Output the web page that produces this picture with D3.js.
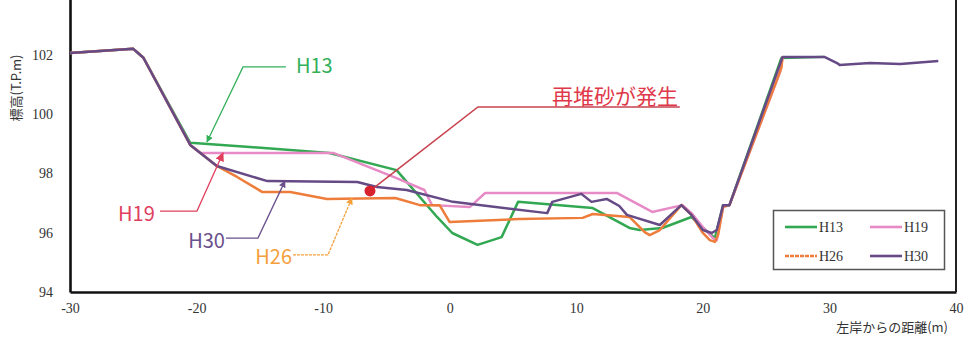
<!DOCTYPE html>
<html>
<head>
<meta charset="utf-8">
<script src="https://cdn.jsdelivr.net/npm/d3@7"></script>
<style>
  html, body { margin: 0; padding: 0; background: #fff; }
  svg { display: block; }
</style>
</head>
<body>
<svg id="chart" width="978" height="337"></svg>
<script>
// Cross-section survey: distance from the left bank (m) vs. elevation (T.P. m)
const seriesNames = ["H13", "H19", "H26", "H30"];
const seriesColors = ["#33a852", "#e68bc6", "#ee7d3b", "#654a86"];

const h13 = [
  [-30, 102.06], [-25, 102.2], [-24.2, 101.9], [-20.5, 99.03], [-15.8, 98.89],
  [-9.5, 98.69], [-4.2, 98.11], [-1.0, 96.53], [0.2, 95.99], [2.2, 95.59],
  [4.1, 95.85], [5.4, 97.04], [11.3, 96.83], [14.2, 96.16], [15.0, 96.09],
  [16.8, 96.16], [19.1, 96.53], [20.4, 96.02], [20.95, 95.82], [21.6, 96.93],
  [22.1, 96.93], [26.2, 101.89], [29.6, 101.93]
];
const h19 = [
  [-30, 102.06], [-25, 102.2], [-24.2, 101.9], [-20.5, 98.96], [-19.7, 98.69],
  [-9.2, 98.69], [-4.2, 97.84], [-2.0, 97.44], [-1.4, 96.93], [1.6, 96.87],
  [2.8, 97.34], [13.2, 97.34], [16.0, 96.7], [18.4, 96.93], [19.1, 96.66],
  [20.0, 96.19], [20.8, 95.82], [21.1, 95.75], [21.6, 96.87], [22.1, 96.93],
  [26.1, 101.42], [26.3, 101.93]
];
const h26 = [
  [-30, 102.06], [-25, 102.2], [-24.2, 101.9], [-20.5, 98.96], [-18.4, 98.25],
  [-16.8, 97.88], [-14.8, 97.37], [-12.6, 97.37], [-9.7, 97.14], [-4.3, 97.17],
  [-2.35, 96.93], [-0.8, 96.93], [0.0, 96.36], [5.5, 96.46], [10.5, 96.5],
  [11.3, 96.63], [14.2, 96.53], [15.4, 96.02], [15.8, 95.92], [16.6, 96.09],
  [18.3, 96.93], [19.1, 96.6], [20.0, 95.99], [20.55, 95.75], [20.95, 95.69],
  [21.2, 95.92], [21.6, 96.87], [22.1, 96.93], [26.2, 101.55], [26.3, 101.93]
];
const h30 = [
  [-30, 102.06], [-25, 102.2], [-24.2, 101.9], [-20.5, 98.96], [-18.4, 98.25],
  [-14.4, 97.74], [-7.3, 97.71], [-5.75, 97.54], [-3.4, 97.44], [0.25, 97.04],
  [7.7, 96.66], [8.1, 97.04], [10.4, 97.31], [11.2, 97.04], [12.4, 97.14],
  [13.4, 96.9], [14.0, 96.6], [16.6, 96.26], [18.3, 96.93], [19.1, 96.6],
  [20.0, 96.09], [20.7, 95.99], [21.1, 96.09], [21.6, 96.93], [22.1, 96.93],
  [26.3, 101.93], [29.6, 101.93], [30.6, 101.72], [30.8, 101.66], [33.2, 101.72],
  [35.6, 101.69], [38.6, 101.79]
];
const seriesData = [h13, h19, h26, h30];

const xTicks = [-30, -20, -10, 0, 10, 20, 30, 40];
const yTicks = [94, 96, 98, 100, 102];

// Callouts: label anchor, leader path (data units), arrow at the last point
const calloutLabels = ["H13", "H19", "H30", "H26"];
const calloutColors = ["#33b05a", "#e0405e", "#6a508c", "#f5a03c"];
const calloutLabelAt = [[-12.15, 101.38], [-23.3, 96.39], [-17.76, 95.48], [-12.46, 94.94]];
const calloutAnchor = ["start", "end", "end", "end"];
const calloutPaths = [
  [[-12.94, 101.59], [-16.33, 101.59], [-19.18, 99.06]],
  [[-22.89, 96.73], [-19.97, 96.73], [-17.91, 98.69]],
  [[-17.68, 95.82], [-15.15, 95.82], [-13.02, 97.74]],
  [[-12.38, 95.25], [-9.62, 95.25], [-7.73, 97.17]]
];

// Re-deposition note
const depositNote = "再堆砂が発生";
const depositPoint = [-6.3, 97.41];
const depositPath = [[-6.3, 97.41], [2.23, 100.24], [18.18, 100.24]];
const depositLabelAt = [18.03, 100.34];

const svg = d3.select("#chart");
const x = d3.scaleLinear().domain([-30, 40]).range([70, 956]);
const y = d3.scaleLinear().domain([94, 104]).range([292, -4.5]);

const serif = "'Liberation Serif', 'Times New Roman', serif";
const jp = "'Noto Sans CJK JP', 'Noto Sans', sans-serif";

// Frame: right edge
svg.append("line")
  .attr("x1", x(40)).attr("x2", x(40))
  .attr("y1", y(104)).attr("y2", y(94))
  .attr("stroke", "#222").attr("stroke-width", 2);

// Axes (plain hyphen for negatives)
const plain = d => String(d);
const xAxis = svg.append("g")
  .attr("transform", `translate(0,${y(94)})`)
  .call(d3.axisBottom(x).tickValues(xTicks).tickFormat(plain)
    .tickSize(0).tickSizeOuter(0).tickPadding(11));
const yAxis = svg.append("g")
  .attr("transform", `translate(${x(-30)},0)`)
  .call(d3.axisLeft(y).tickValues(yTicks).tickFormat(plain)
    .tickSize(0).tickSizeOuter(0).tickPadding(17));

[xAxis, yAxis].forEach(g => {
  g.select(".domain").attr("stroke", "#111").attr("stroke-width", 2.6);
  g.selectAll("text")
    .attr("font-family", serif)
    .attr("font-size", 14)
    .attr("fill", "#333");
});

// Axis titles
svg.append("text")
  .attr("transform", `translate(21,88) rotate(-90)`)
  .attr("text-anchor", "middle")
  .attr("font-family", jp)
  .attr("font-size", 13)
  .attr("fill", "#333")
  .text("標高(T.P.m)");

svg.append("text")
  .attr("x", 948).attr("y", 332)
  .attr("text-anchor", "end")
  .attr("font-family", jp)
  .attr("font-size", 13)
  .attr("fill", "#333")
  .text("左岸からの距離(m)");

// Profiles
const line = d3.line().x(d => x(d[0])).y(d => y(d[1]));
svg.append("g").selectAll("path")
  .data(seriesData)
  .join("path")
  .attr("d", line)
  .attr("fill", "none")
  .attr("stroke", (d, i) => seriesColors[i])
  .attr("stroke-width", 2.5)
  .attr("stroke-linejoin", "round");

// Arrow markers for callouts
const defs = svg.append("defs");
calloutColors.forEach((c, i) => {
  defs.append("marker")
    .attr("id", "arrow" + i)
    .attr("viewBox", "0 0 10 10")
    .attr("refX", 9).attr("refY", 5)
    .attr("markerWidth", i === 1 ? 9 : 7)
    .attr("markerHeight", i === 1 ? 9 : 7)
    .attr("markerUnits", "userSpaceOnUse")
    .attr("orient", "auto")
    .append("path")
    .attr("d", "M0,0 L10,5 L0,10 Z")
    .attr("fill", c);
});

const callouts = svg.append("g");
calloutPaths.forEach((p, i) => {
  callouts.append("path")
    .attr("d", d3.line().x(d => x(d[0])).y(d => y(d[1]))(p))
    .attr("fill", "none")
    .attr("stroke", calloutColors[i])
    .attr("stroke-width", 1.3)
    .attr("stroke-dasharray", i === 3 ? "3,1" : null)
    .attr("marker-end", `url(#arrow${i})`);
  callouts.append("text")
    .attr("x", x(calloutLabelAt[i][0]))
    .attr("y", y(calloutLabelAt[i][1]))
    .attr("text-anchor", calloutAnchor[i])
    .attr("font-family", jp)
    .attr("font-size", 20)
    .attr("fill", calloutColors[i])
    .text(calloutLabels[i]);
});

// Re-deposition callout
svg.append("path")
  .attr("d", d3.line().x(d => x(d[0])).y(d => y(d[1]))(depositPath))
  .attr("fill", "none")
  .attr("stroke", "#c8434f")
  .attr("stroke-width", 1.6);
svg.append("circle")
  .attr("cx", x(depositPoint[0])).attr("cy", y(depositPoint[1]))
  .attr("r", 5.5)
  .attr("fill", "#d8232f");
svg.append("text")
  .attr("x", x(depositLabelAt[0])).attr("y", y(depositLabelAt[1]))
  .attr("text-anchor", "end")
  .attr("font-family", jp)
  .attr("font-size", 21)
  .attr("fill", "#e0384a")
  .text(depositNote);

// Legend
const legend = svg.append("g");
legend.append("rect")
  .attr("x", 773.5).attr("y", 210.5)
  .attr("width", 171).attr("height", 59)
  .attr("fill", "#fff")
  .attr("stroke", "#555").attr("stroke-width", 1.5);
const legendPos = [[785, 227], [870, 227], [785, 256], [870, 256]];
seriesNames.forEach((name, i) => {
  const [lx, ly] = legendPos[i];
  legend.append("line")
    .attr("x1", lx).attr("x2", lx + 32)
    .attr("y1", ly).attr("y2", ly)
    .attr("stroke", seriesColors[i])
    .attr("stroke-width", 2.6)
    .attr("stroke-dasharray", i === 2 ? "4,1" : null);
  legend.append("text")
    .attr("x", lx + 34).attr("y", ly + 5)
    .attr("font-family", serif)
    .attr("font-size", 14)
    .attr("fill", "#333")
    .text(name);
});
</script>
</body>
</html>
